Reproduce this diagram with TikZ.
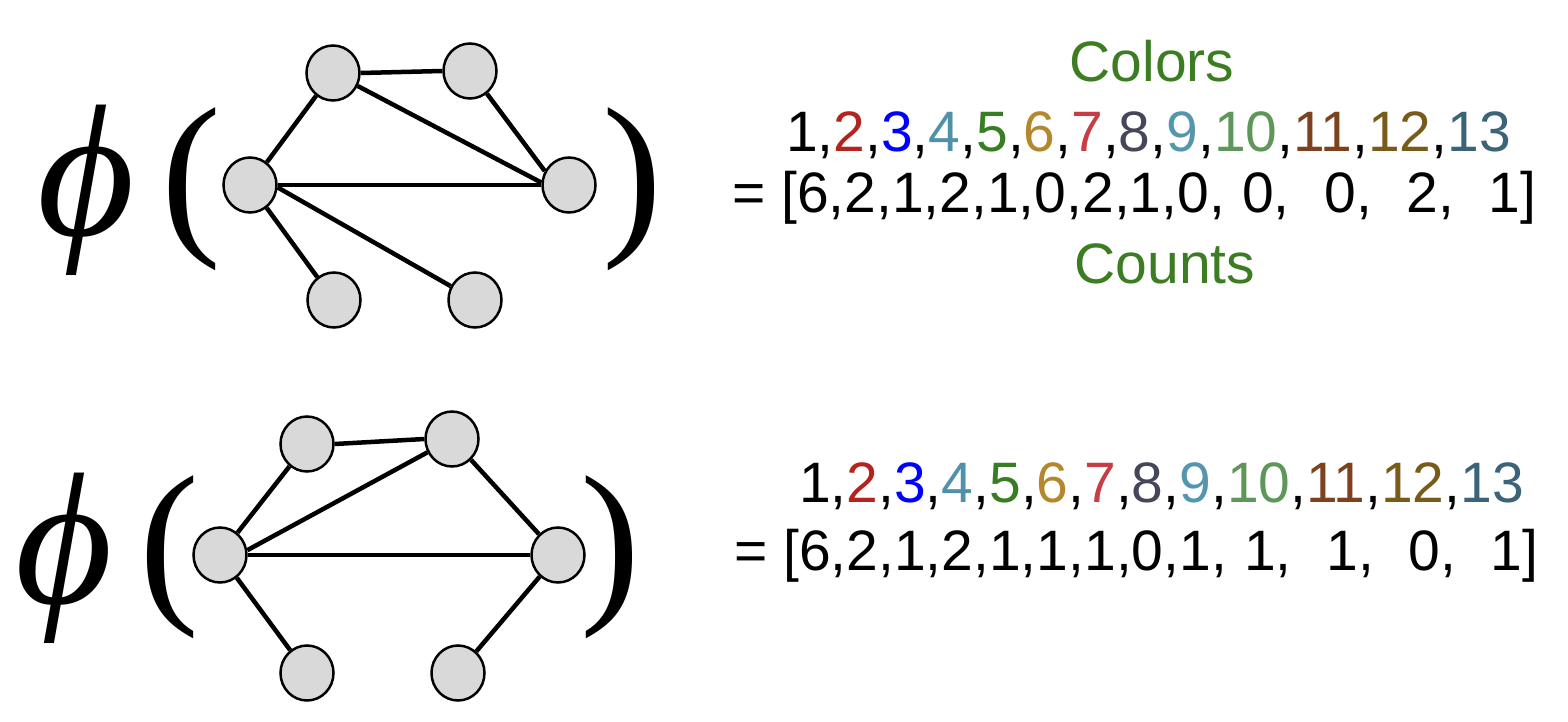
\documentclass[tikz,border=0pt]{standalone}
\usepackage{fontspec}
\setmainfont{Liberation Sans}
\newfontfamily\parenfont{Liberation Serif}
\usetikzlibrary{shapes.geometric}
\definecolor{nodegray}{RGB}{217,217,217}
\definecolor{lblgreen}{RGB}{60,125,35}
\definecolor{cB}{RGB}{180,35,30}
\definecolor{cC}{RGB}{0,0,255}
\definecolor{cD}{RGB}{80,145,170}
\definecolor{cE}{RGB}{55,125,35}
\definecolor{cF}{RGB}{180,135,45}
\definecolor{cG}{RGB}{200,60,70}
\definecolor{cH}{RGB}{70,70,90}
\definecolor{cI}{RGB}{85,150,175}
\definecolor{cJ}{RGB}{95,150,90}
\definecolor{cK}{RGB}{125,65,30}
\definecolor{cL}{RGB}{120,90,25}
\definecolor{cM}{RGB}{60,100,120}
\newcommand\colseq{1,\textcolor{cB}{2},\textcolor{cC}{3},\textcolor{cD}{4},\textcolor{cE}{5},\textcolor{cF}{6},\textcolor{cG}{7},\textcolor{cH}{8},\textcolor{cI}{9},\textcolor{cJ}{10},\textcolor{cK}{11},\textcolor{cL}{12},\textcolor{cM}{13}}
\newcommand\gapone{\hspace{17.3pt}}
\begin{document}
\begin{tikzpicture}[x=1pt,y=-1pt,
  vtx/.style={ellipse,draw,fill=nodegray,line width=2.5pt,minimum width=53pt,minimum height=55pt,inner sep=0pt},
  edge/.style={line width=4.5pt},
  lbl/.style={inner sep=0pt,font=\fontsize{57}{68}\selectfont},
  phisym/.style={inner sep=0pt,font=\parenfont\itshape\fontsize{188}{188}\selectfont},
  paren/.style={inner sep=0pt,font=\parenfont\fontsize{180}{180}\selectfont}
]
\useasboundingbox (0,0) rectangle (1568,722);

% ---------- top formula ----------
\node[phisym] (phiA) at (86,190) {ϕ};
\node[paren] (lpA) at (191,189) {(};
\node[paren] (rpA) at (632,189) {)};

\node[vtx] (a1) at (333,73) {};
\node[vtx] (b1) at (470,71) {};
\node[vtx] (c1) at (250,185) {};
\node[vtx] (d1) at (569,185) {};
\node[vtx] (e1) at (334,300) {};
\node[vtx] (f1) at (475,300) {};

\draw[edge] (a1.east) -- (b1.west);
\draw[edge] (a1) -- (c1);
\draw[edge] (a1) -- (d1.175);
\draw[edge] (b1) -- (d1.150);
\draw[edge] (c1.east) -- (d1.west);
\draw[edge] (c1) -- (e1);
\draw[edge] (c1.355) -- (f1);

\node[lbl,text=lblgreen,anchor=base] (colA) at (1152,82) {Colors};
\node[lbl,anchor=base west] (seqA) at (786,152) {\colseq};
\node[lbl,anchor=base west] (cntA) at (732,212) {= [6,2,1,2,1,0,2,1,0,\gapone 0,\gapone\gapone 0,\gapone\gapone 2,\gapone\gapone 1]};
\node[lbl,text=lblgreen,anchor=base] (cnsA) at (1165,283) {Counts};

% ---------- bottom formula ----------
\node[phisym] (phiB) at (64,558) {ϕ};
\node[paren] (lpB) at (169,557) {(};
\node[paren] (rpB) at (610,557) {)};

\node[vtx] (a2) at (307,444) {};
\node[vtx] (b2) at (452,439) {};
\node[vtx] (c2) at (220,555) {};
\node[vtx] (d2) at (558,555) {};
\node[vtx] (e2) at (307,673) {};
\node[vtx] (f2) at (458,673) {};

\draw[edge] (a2.east) -- (b2.west);
\draw[edge] (a2) -- (c2);
\draw[edge] (b2) -- (c2.10);
\draw[edge] (b2) -- (d2);
\draw[edge] (c2.east) -- (d2.west);
\draw[edge] (c2) -- (e2);
\draw[edge] (d2) -- (f2);

\node[lbl,anchor=base west] (seqB) at (799,502) {\colseq};
\node[lbl,anchor=base west] (cntB) at (734,570) {= [6,2,1,2,1,1,1,0,1,\gapone 1,\gapone\gapone 1,\gapone\gapone 0,\gapone\gapone 1]};
\end{tikzpicture}
\end{document}
